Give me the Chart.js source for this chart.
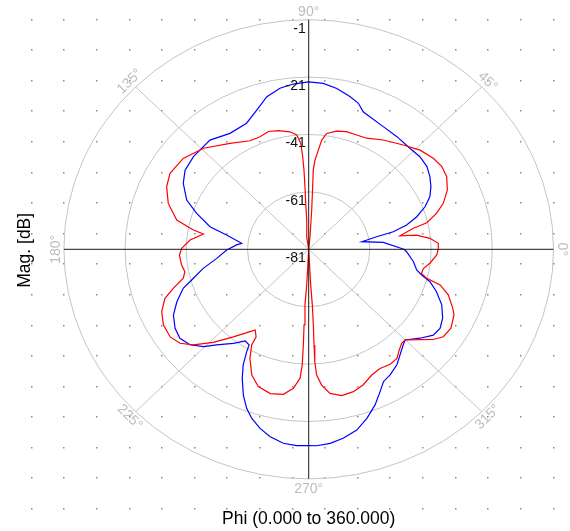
<!DOCTYPE html>
<html>
<head>
<meta charset="utf-8">
<script src="https://cdn.jsdelivr.net/npm/chart.js@4.4.1/dist/chart.umd.min.js"></script>
<style>
  html, body { margin: 0; padding: 0; background: #fff; }
</style>
</head>
<body>
<canvas id="polarPlot" width="570" height="531"></canvas>
<script>
// radial axis: centre of the plot is -81 dB
const RMIN = -81;
const ringTicks = [-81, -61, -41, -21, -1];
const angleTicks = [0, 45, 90, 135, 180, 225, 270, 315];

// blue trace, phi in degrees, magnitude in dB
const bluePhi = [0, 5.7, 8.7, 11.2, 12.5, 14.8, 17.8, 21.3, 24.8, 28.6, 32.6, 36.7, 41.6, 46.8,
  53.7, 60.3, 66.6, 69.6, 72.3, 75.8, 80.7, 85.3, 90, 95.0, 99.5, 104.4, 109.3, 114.8, 122.5,
  130.3, 139.4, 145.7, 150.7, 156.7, 161.1, 166.3, 169.5, 174.5, 176.3, 180.5, 186.0, 190.9,
  195.0, 198.3, 203.0, 207.4, 212.2, 216.4, 220.6, 224.6, 227.9, 233.1, 237.0, 239.7, 240.4,
  242.0, 244.2, 247.2, 249.9, 252.5, 255.7, 259.1, 263.0, 266.7, 270, 272.2, 275.9, 279.7,
  284.0, 287.9, 291.8, 295.2, 297.9, 301.3, 305.6, 309.0, 312.9, 314.9, 319.6, 323.7, 327.3,
  331.3, 336.0, 340.5, 344.1, 346.4, 348.5, 352.8, 358.5, 360];
const blueMag = [-49.9, -56.5, -63.4, -58.4, -52.7, -47.9, -43.9, -40.2, -37.4, -35.5, -34.0, -32.8, -32.4, -32.7,
  -32.3, -31.8, -30.7, -29.9, -27.6, -26.1, -24.2, -23.0, -22.7, -23.2, -24.1, -26.1, -29.6, -32.6, -33.1,
  -31.1, -31.4, -32.1, -34.0, -37.6, -42.3, -47.8, -53.7, -59.0, -57.4, -54.2, -50.8, -45.9,
  -42.0, -37.8, -34.2, -31.2, -29.4, -28.7, -29.9, -32.7, -36.1, -40.0, -42.9, -42.4, -40.0,
  -35.4, -31.1, -25.9, -22.0, -19.2, -16.6, -14.5, -12.9, -12.5, -12.6, -12.5, -13.0, -14.2,
  -16.1, -19.1, -22.6, -26.2, -28.8, -29.8, -31.5, -33.6, -35.6, -36.4, -33.2, -30.5, -30.0,
  -31.1, -33.4, -36.7, -39.8, -43.0, -45.0, -46.5, -49.0, -49.9];

// red trace
const redPhi = [0, 2.8, 5.5, 8.0, 9.0, 12.1, 13.5, 16.7, 20.0, 24.5, 29.3, 33.5, 37.9, 43.5, 49.6,
  57.4, 63.9, 68.5, 73.2, 77.5, 81.7, 83.6, 84.8, 86.2, 86.9, 86.6, 85.9, 84.5, 90,
  98.4, 93.6, 93.5, 93.2, 93.2, 93.5, 94.0, 95.6, 98.5, 103.5, 107.8, 112.1, 116.9, 124.9,
  134.3, 142.3, 149.7, 154.8, 160.8, 166.7, 169.9, 171.2, 175.2, 179.5, 182.7, 187.5, 190.9,
  193.8, 197.1, 200.0, 204.3, 209.0, 214.0, 217.9, 221.5, 226.1, 231.1, 236.2, 238.1, 240.6,
  240.8, 243.2, 247.0, 251.0, 256.0, 260.7, 264.1, 266.4, 267.0, 267.0, 266.7, 266.4, 267.0,
  267.1, 270, 273.0, 273.5, 273.3, 273.0, 272.9, 273.4, 275.1, 277.9, 282.0, 286.4, 290.6,
  295.2, 299.3, 303.6, 307.2, 310.1, 312.8, 314.9, 319.1, 322.3, 325.3, 329.4, 334.3, 336.4,
  340.8, 343.9, 345.3, 347.2, 350.0, 353.0, 357.3, 360];
const redMag = [-38.7, -38.6, -41.2, -45.4, -50.8, -46.0, -41.3, -37.4, -34.2, -31.2, -29.3, -28.8, -29.4, -30.8, -33.3,
  -35.8, -37.9, -38.2, -38.2, -38.8, -40.2, -42.7, -46.3, -49.8, -53.3, -59.2, -67.3, -76.6, -81,
  -76.6, -70.8, -65.0, -59.2, -53.4, -48.6, -44.0, -41.0, -39.6, -38.5, -37.9, -38.7, -38.6, -36.0,
  -31.8, -29.2, -28.5, -29.7, -32.4, -36.7, -42.7, -46.2, -42.1, -39.5, -38.7, -39.1, -39.8,
  -38.8, -34.7, -31.0, -28.3, -26.7, -26.4, -27.7, -30.7, -36.0, -41.8, -46.5, -47.9, -46.0,
  -42.8, -38.4, -33.4, -30.4, -29.2, -29.8, -32.3, -36.0, -40.6, -47.6, -54.6, -61.6, -68.6,
  -74.4, -81, -68.6, -61.6, -54.6, -47.6, -41.8, -37.1, -33.5, -30.3, -28.9, -29.3, -30.5,
  -32.6, -33.4, -32.9, -33.3, -35.1, -36.3, -36.4, -32.9, -29.6, -27.5, -27.0, -28.3, -29.6,
  -32.7, -36.3, -41.1, -43.2, -42.9, -41.1, -39.1, -38.7];

function toXY(phi, mag) {
  return phi.map((p, i) => {
    const r = Math.max(mag[i] - RMIN, 0);
    const a = p * Math.PI / 180;
    return { x: r * Math.cos(a), y: r * Math.sin(a) };
  });
}

const FONT = 'Arial, "Liberation Sans", sans-serif';

const polarFrame = {
  id: 'polarFrame',
  beforeDatasetsDraw(chart) {
    const { ctx, scales: { x, y } } = chart;
    const cx = x.getPixelForValue(0), cy = y.getPixelForValue(0);
    const outer = ringTicks[ringTicks.length - 1] - RMIN;
    ctx.save();
    // dotted background grid
    ctx.fillStyle = '#8a8a8a';
    const g0 = -90.5, g1 = 80, n = 16;
    for (let i = 0; i <= n; i++) {
      for (let j = 0; j <= n; j++) {
        const px = x.getPixelForValue(g0 + (g1 - g0) * i / n);
        const py = y.getPixelForValue(g0 + (g1 - g0) * j / n);
        ctx.fillRect(Math.round(px) - 1, Math.round(py) - 1, 1.5, 1.5);
      }
    }
    // rings
    ctx.strokeStyle = '#c4c4c4';
    ctx.lineWidth = 1;
    ringTicks.forEach(t => {
      const r = t - RMIN;
      if (r <= 0) return;
      const rx = x.getPixelForValue(r) - cx;
      const ry = cy - y.getPixelForValue(r);
      ctx.beginPath();
      ctx.ellipse(cx, cy, rx, ry, 0, 0, Math.PI * 2);
      ctx.stroke();
    });
    // diagonal spokes
    [45, 135, 225, 315].forEach(a => {
      const rad = a * Math.PI / 180;
      ctx.beginPath();
      ctx.moveTo(cx, cy);
      ctx.lineTo(x.getPixelForValue(outer * Math.cos(rad)), y.getPixelForValue(outer * Math.sin(rad)));
      ctx.stroke();
    });
    ctx.restore();
  },
  afterDatasetsDraw(chart) {
    const { ctx, scales: { x, y } } = chart;
    const cx = x.getPixelForValue(0), cy = y.getPixelForValue(0);
    const outer = ringTicks[ringTicks.length - 1] - RMIN;
    ctx.save();
    // main axes
    ctx.strokeStyle = '#1a1a1a';
    ctx.lineWidth = 1;
    ctx.beginPath();
    ctx.moveTo(x.getPixelForValue(-outer), cy);
    ctx.lineTo(x.getPixelForValue(outer), cy);
    ctx.moveTo(cx, y.getPixelForValue(outer));
    ctx.lineTo(cx, y.getPixelForValue(-outer));
    ctx.stroke();

    // radial tick labels
    ctx.font = '14px ' + FONT;
    ctx.fillStyle = '#111';
    ctx.textAlign = 'right';
    ctx.textBaseline = 'top';
    ringTicks.forEach(t => {
      const py = y.getPixelForValue(t - RMIN);
      ctx.fillText(String(t), cx - 3, py + 2);
    });

    // angle labels
    ctx.fillStyle = '#bdbdbd';
    ctx.textAlign = 'center';
    ctx.textBaseline = 'middle';
    angleTicks.forEach(a => {
      const rad = a * Math.PI / 180;
      const px = x.getPixelForValue(outer * Math.cos(rad));
      const py = y.getPixelForValue(outer * Math.sin(rad));
      const dx = px - cx, dy = py - cy, len = Math.hypot(dx, dy);
      const off = a === 270 ? 10 : 8;
      let rot = 90 - a;
      while (rot > 90) rot -= 180;
      while (rot < -90) rot += 180;
      ctx.save();
      ctx.translate(px + dx / len * off, py + dy / len * off);
      ctx.rotate(rot * Math.PI / 180);
      ctx.fillText(a + '°', 0, 0);
      ctx.restore();
    });

    // axis titles
    ctx.fillStyle = '#000';
    ctx.font = '17.5px ' + FONT;
    ctx.textAlign = 'center';
    ctx.textBaseline = 'middle';
    ctx.fillText('Phi (0.000 to 360.000)', cx, 519);
    ctx.save();
    ctx.translate(25, cy + 1);
    ctx.rotate(-Math.PI / 2);
    ctx.fillText('Mag. [dB]', 0, 0);
    ctx.restore();
    ctx.restore();
  }
};

const ctx = document.getElementById('polarPlot');
const chart = new Chart(ctx, {
  type: 'scatter',
  data: {
    datasets: [{
      label: 'Red',
      data: toXY(redPhi, redMag),
      showLine: true,
      borderColor: '#ff0000',
      borderWidth: 1.2,
      pointRadius: 0,
      tension: 0
    }, {
      label: 'Blue',
      data: toXY(bluePhi, blueMag),
      showLine: true,
      borderColor: '#0000ff',
      borderWidth: 1.2,
      pointRadius: 0,
      tension: 0
    }]
  },
  options: {
    responsive: false,
    animation: false,
    layout: { padding: 0 },
    plugins: { legend: { display: false }, tooltip: { enabled: false } },
    scales: {
      x: { type: 'linear', display: false, min: -100.88, max: 85.39 },
      y: { type: 'linear', display: false, min: -98.15, max: 86.86 }
    }
  },
  plugins: [polarFrame]
});
</script>
</body>
</html>
